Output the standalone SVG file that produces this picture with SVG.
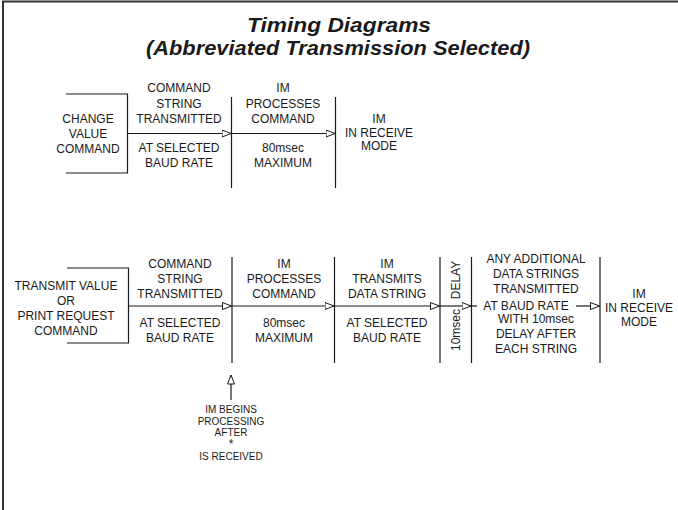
<svg xmlns="http://www.w3.org/2000/svg" width="678" height="510" viewBox="0 0 678 510">
<style>
.t{font-family:"Liberation Sans",Arial,sans-serif;font-size:12px;fill:#1a1a1a;text-anchor:middle}
.s{font-size:10px}
.h{font-family:"Liberation Sans",Arial,sans-serif;font-size:20px;font-weight:bold;font-style:italic;fill:#1a1a1a;text-anchor:middle}
.ln{stroke:#1a1a1a;stroke-width:1.2;fill:none}
.bd{stroke:#333;stroke-width:2;fill:none}
</style>
<defs>
<marker id="ar" markerUnits="userSpaceOnUse" markerWidth="11" markerHeight="9" refX="9.5" refY="4" orient="auto">
<path d="M0.5,0.5 L9.5,4 L0.5,7.5 Z" fill="#fff" stroke="#1a1a1a" stroke-width="1"/>
</marker>
</defs>
<rect width="678" height="510" fill="#fff"/>
<path class="bd" d="M3,510 V1.5 H678"/>
<g id="title">
<text class="h" x="339" y="32" textLength="184" lengthAdjust="spacingAndGlyphs">Timing Diagrams</text>
<text class="h" x="338" y="55" textLength="384" lengthAdjust="spacingAndGlyphs">(Abbreviated Transmission Selected)</text>
</g>
<g id="connectors">
<path class="ln" d="M66,94 H127.5 V173 H66"/>
<path class="ln" d="M231.5,97 V188 M335.5,97 V188"/>
<path class="ln" d="M127.5,133.5 H231" marker-end="url(#ar)"/>
<path class="ln" d="M231.5,133.5 H335" marker-end="url(#ar)"/>
<path class="ln" d="M67,268 H128.5 V343 H67"/>
<path class="ln" d="M232,257 V363 M334.5,257 V363 M440,257 V363 M471.5,257 V363 M600,257 V363"/>
<path class="ln" d="M128.5,306 H231.5" marker-end="url(#ar)"/>
<path class="ln" d="M232,306 H334" marker-end="url(#ar)"/>
<path class="ln" d="M334.5,306 H439.5" marker-end="url(#ar)"/>
<path class="ln" d="M440,306 H471" marker-end="url(#ar)"/>
<path class="ln" d="M471.5,306 H477"/>
<path class="ln" d="M576,306 H599.5" marker-end="url(#ar)"/>
<path class="ln" d="M231,400 V375" marker-end="url(#ar)"/>
</g>
<g id="change-value">
<text class="t" x="88" y="123">CHANGE</text>
<text class="t" x="88" y="138">VALUE</text>
<text class="t" x="88" y="153">COMMAND</text>
</g>
<g id="cmd-string-1">
<text class="t" x="179" y="92">COMMAND</text>
<text class="t" x="179" y="107.5">STRING</text>
<text class="t" x="179" y="123">TRANSMITTED</text>
<text class="t" x="179" y="152">AT SELECTED</text>
<text class="t" x="179" y="167">BAUD RATE</text>
</g>
<g id="im-processes-1">
<text class="t" x="283" y="92">IM</text>
<text class="t" x="283" y="107.5">PROCESSES</text>
<text class="t" x="283" y="123">COMMAND</text>
<text class="t" x="283" y="152">80msec</text>
<text class="t" x="283" y="167">MAXIMUM</text>
</g>
<g id="receive-1">
<text class="t" x="379" y="123">IM</text>
<text class="t" x="379" y="136.5">IN  RECEIVE</text>
<text class="t" x="379" y="150">MODE</text>
</g>
<g id="transmit-value">
<text class="t" x="66" y="290">TRANSMIT VALUE</text>
<text class="t" x="66" y="305">OR</text>
<text class="t" x="66" y="320">PRINT REQUEST</text>
<text class="t" x="66" y="335">COMMAND</text>
</g>
<g id="cmd-string-2">
<text class="t" x="180" y="268">COMMAND</text>
<text class="t" x="180" y="283">STRING</text>
<text class="t" x="180" y="298">TRANSMITTED</text>
<text class="t" x="180" y="327">AT SELECTED</text>
<text class="t" x="180" y="342">BAUD RATE</text>
</g>
<g id="im-processes-2">
<text class="t" x="284" y="268">IM</text>
<text class="t" x="284" y="283">PROCESSES</text>
<text class="t" x="284" y="298">COMMAND</text>
<text class="t" x="284" y="327">80msec</text>
<text class="t" x="284" y="342">MAXIMUM</text>
</g>
<g id="im-transmits">
<text class="t" x="387" y="268">IM</text>
<text class="t" x="387" y="283">TRANSMITS</text>
<text class="t" x="387" y="298">DATA STRING</text>
<text class="t" x="387" y="327">AT SELECTED</text>
<text class="t" x="387" y="342">BAUD RATE</text>
</g>
<g id="delay">
<text class="t" transform="translate(459.5,280) rotate(-90)">DELAY</text>
<text class="t" transform="translate(459.5,330) rotate(-90)">10msec</text>
</g>
<g id="additional">
<text class="t" x="536" y="263">ANY ADDITIONAL</text>
<text class="t" x="536" y="278">DATA STRINGS</text>
<text class="t" x="536" y="293">TRANSMITTED</text>
<text class="t" x="526" y="310">AT BAUD RATE</text>
<text class="t" x="536" y="323">WITH 10msec</text>
<text class="t" x="536" y="338">DELAY AFTER</text>
<text class="t" x="536" y="353">EACH STRING</text>
</g>
<g id="receive-2">
<text class="t" x="639" y="298">IM</text>
<text class="t" x="639" y="312">IN  RECEIVE</text>
<text class="t" x="639" y="326">MODE</text>
</g>
<g id="note">
<text class="t s" x="231" y="413">IM BEGINS</text>
<text class="t s" x="231" y="424.5">PROCESSING</text>
<text class="t s" x="231" y="436">AFTER</text>
<text class="t" x="231" y="448">*</text>
<text class="t s" x="231" y="460">IS RECEIVED</text>
</g>
</svg>
